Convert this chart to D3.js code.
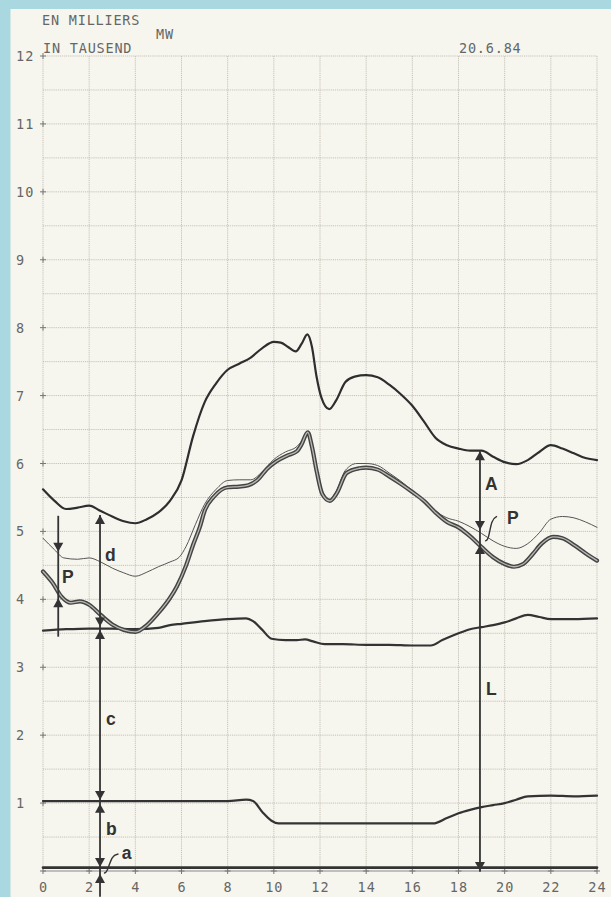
<!DOCTYPE html>
<html>
<head>
<meta charset="utf-8">
<script src="https://cdn.jsdelivr.net/npm/d3@7"></script>
<style>
  html, body { margin: 0; padding: 0; background: #a9d8e1; }
  svg { display: block; }
</style>
</head>
<body>
<svg id="chart" width="611" height="897"></svg>
<script>
// ---------------- DATA ----------------
const xTicks = [0, 2, 4, 6, 8, 10, 12, 14, 16, 18, 20, 22, 24];
const yTicks = [1, 2, 3, 4, 5, 6, 7, 8, 9, 10, 11, 12];
const titleLines = ["EN MILLIERS", "MW", "IN TAUSEND"];
const dateLabel = "20.6.84";

// top curve (total, A + L)
const totalLoad = [[0,5.62],[0.5,5.45],[1,5.33],[1.5,5.35],[2,5.38],[2.5,5.3],[3,5.22],[3.5,5.15],[4,5.12],[4.5,5.18],[5,5.28],[5.5,5.45],[6,5.75],[6.5,6.4],[7,6.9],[7.5,7.18],[8,7.38],[8.5,7.47],[9,7.56],[9.5,7.7],[10,7.79],[10.3,7.78],[10.6,7.72],[10.95,7.65],[11.2,7.76],[11.45,7.9],[11.65,7.72],[11.85,7.28],[12.05,6.98],[12.4,6.8],[12.7,6.93],[13.1,7.2],[13.5,7.28],[14,7.3],[14.5,7.27],[15,7.16],[15.5,7.02],[16,6.85],[16.5,6.62],[17,6.38],[17.5,6.27],[18,6.22],[18.5,6.19],[19,6.19],[19.5,6.1],[20,6.02],[20.5,5.99],[21,6.05],[21.5,6.17],[22,6.27],[22.5,6.22],[23,6.15],[23.5,6.08],[24,6.05]];
// thin curve (upper limit of P)
const thinLoad = [[0,4.9],[0.5,4.73],[0.9,4.61],[1.5,4.59],[2,4.61],[2.5,4.55],[3,4.46],[3.5,4.39],[4,4.34],[4.5,4.4],[5,4.48],[5.5,4.55],[5.9,4.62],[6.2,4.78],[6.6,5.1],[7,5.4],[7.5,5.62],[8,5.75],[8.5,5.76],[9,5.76],[9.5,5.88],[10,6.06],[10.5,6.17],[11,6.25],[11.2,6.33],[11.45,6.47],[11.65,6.25],[11.85,5.91],[12.1,5.6],[12.4,5.47],[12.7,5.59],[13.1,5.9],[13.6,6.0],[14,6.0],[14.5,5.97],[15,5.86],[15.5,5.74],[16,5.6],[16.5,5.46],[17,5.3],[17.5,5.2],[18,5.15],[18.5,5.07],[19,4.97],[19.5,4.86],[20,4.78],[20.5,4.75],[21,4.82],[21.5,4.98],[22,5.18],[22.5,5.22],[23,5.2],[23.5,5.14],[24,5.06]];
// double curve (L)
const doubleLoad = [[0,4.41],[0.4,4.25],[0.8,4.04],[1.2,3.95],[1.6,3.97],[2,3.92],[2.5,3.77],[3,3.63],[3.5,3.55],[4,3.52],[4.5,3.62],[5,3.8],[5.5,4.02],[5.8,4.19],[6.2,4.5],[6.5,4.8],[6.8,5.07],[7,5.3],[7.4,5.51],[8,5.65],[8.5,5.66],[8.9,5.68],[9.3,5.76],[9.7,5.92],[10.1,6.03],[10.6,6.12],[11,6.18],[11.2,6.28],[11.47,6.46],[11.65,6.25],[11.86,5.88],[12.1,5.55],[12.43,5.45],[12.72,5.56],[13.15,5.86],[13.7,5.93],[14,5.94],[14.5,5.91],[15,5.81],[15.5,5.7],[16,5.58],[16.5,5.45],[17,5.28],[17.5,5.14],[18,5.06],[18.5,4.93],[19,4.77],[19.5,4.62],[20,4.52],[20.4,4.48],[20.8,4.52],[21.2,4.66],[21.6,4.82],[22.1,4.92],[22.5,4.9],[23,4.8],[23.5,4.68],[24,4.57]];
// c curve
const cLoad = [[0,3.54],[1,3.56],[2,3.57],[3,3.57],[4,3.56],[5,3.58],[5.5,3.62],[6,3.64],[7,3.68],[8,3.71],[8.8,3.72],[9.1,3.68],[9.5,3.55],[9.9,3.42],[10.5,3.4],[11,3.4],[11.35,3.41],[11.7,3.38],[12.2,3.34],[13,3.34],[14,3.33],[15,3.33],[16,3.32],[16.8,3.32],[17.3,3.4],[18,3.5],[18.5,3.56],[19,3.59],[19.5,3.62],[20,3.66],[20.5,3.72],[21,3.77],[21.5,3.74],[22,3.71],[23,3.71],[24,3.72]];
// b curve
const bLoad = [[0,1.03],[2,1.03],[4,1.03],[6,1.03],[8,1.03],[8.8,1.05],[9.1,1.03],[9.5,0.87],[9.9,0.74],[10.2,0.7],[12,0.7],[14,0.7],[16,0.7],[16.9,0.7],[17.5,0.78],[18,0.85],[18.5,0.9],[19,0.94],[19.5,0.97],[20,1.0],[20.5,1.05],[21,1.1],[22,1.11],[23,1.1],[24,1.11]];
// a curve
const aLoad = [[0,0.05],[6,0.05],[12,0.05],[18,0.05],[24,0.05]];

// annotation arrows: [hour, fromValue, toValue]
const arrowLines = [[0.66, 5.23, 3.45], [2.47, 5.24, -0.38], [18.93, 6.18, -0.01]];
// arrow heads: [hour, tipValue, direction]
const arrowHeads = [
  [0.66, 4.70, "down"], [0.66, 4.015, "up"],
  [2.47, 5.24, "up"], [2.47, 3.60, "down"], [2.47, 3.55, "up"],
  [2.47, 1.045, "down"], [2.47, 0.99, "up"], [2.47, 0.06, "down"], [2.47, -0.045, "up"],
  [18.93, 6.18, "up"], [18.93, 5.02, "down"], [18.93, 4.80, "up"], [18.93, 0.0, "down"]
];
// annotation letters: [text, hour, baselineValue]
const letters = [["P", 0.82, 4.24], ["d", 2.69, 4.56], ["c", 2.73, 2.15], ["b", 2.73, 0.53], ["a", 3.41, 0.18],
                 ["A", 19.15, 5.61], ["P", 20.1, 5.11], ["L", 19.19, 2.59]];
// leaders
const leaderA = [[2.64, -0.03], [2.77, -0.03], [2.99, 0.235], [3.27, 0.25]];
const leaderP = [[19.15, 4.86], [19.30, 4.87], [19.43, 5.18], [19.67, 5.22]];

// ---------------- DRAW ----------------
(function () {
const svg = d3.select("#chart");
const W = 611, H = 897;
const pL = 43, pR = 597, pT = 56, pB = 871;

const x = d3.scaleLinear().domain([0, 24]).range([pL, pR]);
const y = d3.scaleLinear().domain([0, 12]).range([pB, pT]);

// background & paper
svg.append("rect").attr("x", 0).attr("y", 0).attr("width", W).attr("height", H).attr("fill", "#a9d8e1");
svg.append("rect").attr("x", 10.5).attr("y", 9).attr("width", W - 10.5).attr("height", H - 9).attr("fill", "#f7f6ee");

const gridColor = "#b9b5ab";
const hGrid = d3.range(0.5, 12.01, 0.5);
svg.append("g").selectAll("line").data(hGrid).join("line")
  .attr("x1", pL).attr("x2", pR)
  .attr("y1", d => y(d)).attr("y2", d => y(d))
  .attr("stroke", gridColor).attr("stroke-width", 0.8).attr("stroke-dasharray", "1.2,0.9");
svg.append("g").selectAll("line").data(xTicks).join("line")
  .attr("x1", d => x(d)).attr("x2", d => x(d))
  .attr("y1", pT).attr("y2", pB)
  .attr("stroke", gridColor).attr("stroke-width", 0.8).attr("stroke-dasharray", "1.2,0.9");
svg.append("line").attr("x1", pL).attr("x2", pR).attr("y1", pB).attr("y2", pB)
  .attr("stroke", "#888").attr("stroke-width", 1);

const tickColor = "#777";
const tg = svg.append("g");
yTicks.forEach(v => {
  tg.append("line").attr("x1", pL - 3).attr("x2", pL + 3).attr("y1", y(v)).attr("y2", y(v)).attr("stroke", tickColor).attr("stroke-width", 1);
  tg.append("line").attr("x1", pL).attr("x2", pL).attr("y1", y(v) - 3).attr("y2", y(v) + 3).attr("stroke", tickColor).attr("stroke-width", 1);
});
xTicks.forEach(h => {
  tg.append("line").attr("x1", x(h)).attr("x2", x(h)).attr("y1", pB - 3).attr("y2", pB + 3).attr("stroke", tickColor).attr("stroke-width", 1);
  tg.append("line").attr("x1", x(h) - 3).attr("x2", x(h) + 3).attr("y1", pB).attr("y2", pB).attr("stroke", tickColor).attr("stroke-width", 1);
});

const monoFont = "'DejaVu Sans Mono', 'Liberation Mono', monospace";
const textColor = "#666";

svg.append("g").selectAll("text").data(yTicks).join("text")
  .attr("x", 16).attr("y", d => y(d) + 5)
  .attr("font-family", monoFont).attr("font-size", 13.5).attr("letter-spacing", 1.2)
  .attr("fill", textColor).text(d => d);
svg.append("g").selectAll("text").data(xTicks).join("text")
  .attr("x", d => x(d) + 0.5).attr("y", 892)
  .attr("text-anchor", "middle")
  .attr("font-family", monoFont).attr("font-size", 13.5).attr("letter-spacing", 1)
  .attr("fill", textColor).text(d => d);

const titlePos = [[42, 25], [156, 39], [43, 53]];
titleLines.forEach((t, i) => {
  svg.append("text").attr("x", titlePos[i][0]).attr("y", titlePos[i][1]).attr("font-family", monoFont).attr("font-size", 13.5)
    .attr("letter-spacing", 0.8).attr("fill", textColor).text(t);
});
svg.append("text").attr("x", 459).attr("y", 53).attr("font-family", monoFont).attr("font-size", 13.5)
  .attr("letter-spacing", 0.8).attr("fill", textColor).text(dateLabel);

const line = d3.line().x(d => x(d[0])).y(d => y(d[1])).curve(d3.curveMonotoneX);
const curves = svg.append("g").attr("fill", "none").attr("stroke-linejoin", "round").attr("stroke-linecap", "round");
curves.append("path").attr("d", line(aLoad)).attr("stroke", "#333").attr("stroke-width", 2.6);
curves.append("path").attr("d", line(bLoad)).attr("stroke", "#333").attr("stroke-width", 2.2);
curves.append("path").attr("d", line(cLoad)).attr("stroke", "#333").attr("stroke-width", 2.2);
curves.append("path").attr("d", line(thinLoad)).attr("stroke", "#555").attr("stroke-width", 1);
curves.append("path").attr("d", line(doubleLoad)).attr("stroke", "#444").attr("stroke-width", 4.2);
curves.append("path").attr("d", line(doubleLoad)).attr("stroke", "#b8b8b4").attr("stroke-width", 1.3);
curves.append("path").attr("d", line(totalLoad)).attr("stroke", "#2e2e2e").attr("stroke-width", 2.2);

const ann = svg.append("g");
ann.selectAll("line").data(arrowLines).join("line")
  .attr("x1", d => x(d[0])).attr("x2", d => x(d[0]))
  .attr("y1", d => y(d[1])).attr("y2", d => y(d[2]))
  .attr("stroke", "#333").attr("stroke-width", 1.8);
const hw = 5, hh = 9;
ann.selectAll("path.head").data(arrowHeads).join("path")
  .attr("class", "head")
  .attr("d", d => {
    const tx = x(d[0]), ty = y(d[1]);
    const s = d[2] === "down" ? -1 : 1;
    return `M${tx - hw},${ty + s * hh}L${tx + hw},${ty + s * hh}L${tx},${ty}Z`;
  })
  .attr("fill", "#333");

const leader = d3.line().x(d => x(d[0])).y(d => y(d[1])).curve(d3.curveBasis);
ann.append("path").attr("d", leader(leaderA)).attr("fill", "none").attr("stroke", "#333").attr("stroke-width", 1.4);
ann.append("path").attr("d", leader(leaderP)).attr("fill", "none").attr("stroke", "#333").attr("stroke-width", 1.4);

ann.selectAll("text").data(letters).join("text")
  .attr("x", d => x(d[1])).attr("y", d => y(d[2]))
  .attr("font-family", "'Liberation Sans', Arial, sans-serif").attr("font-weight", "bold")
  .attr("font-size", 17.5).attr("fill", "#333").text(d => d[0]);
})();
</script>
</body>
</html>
